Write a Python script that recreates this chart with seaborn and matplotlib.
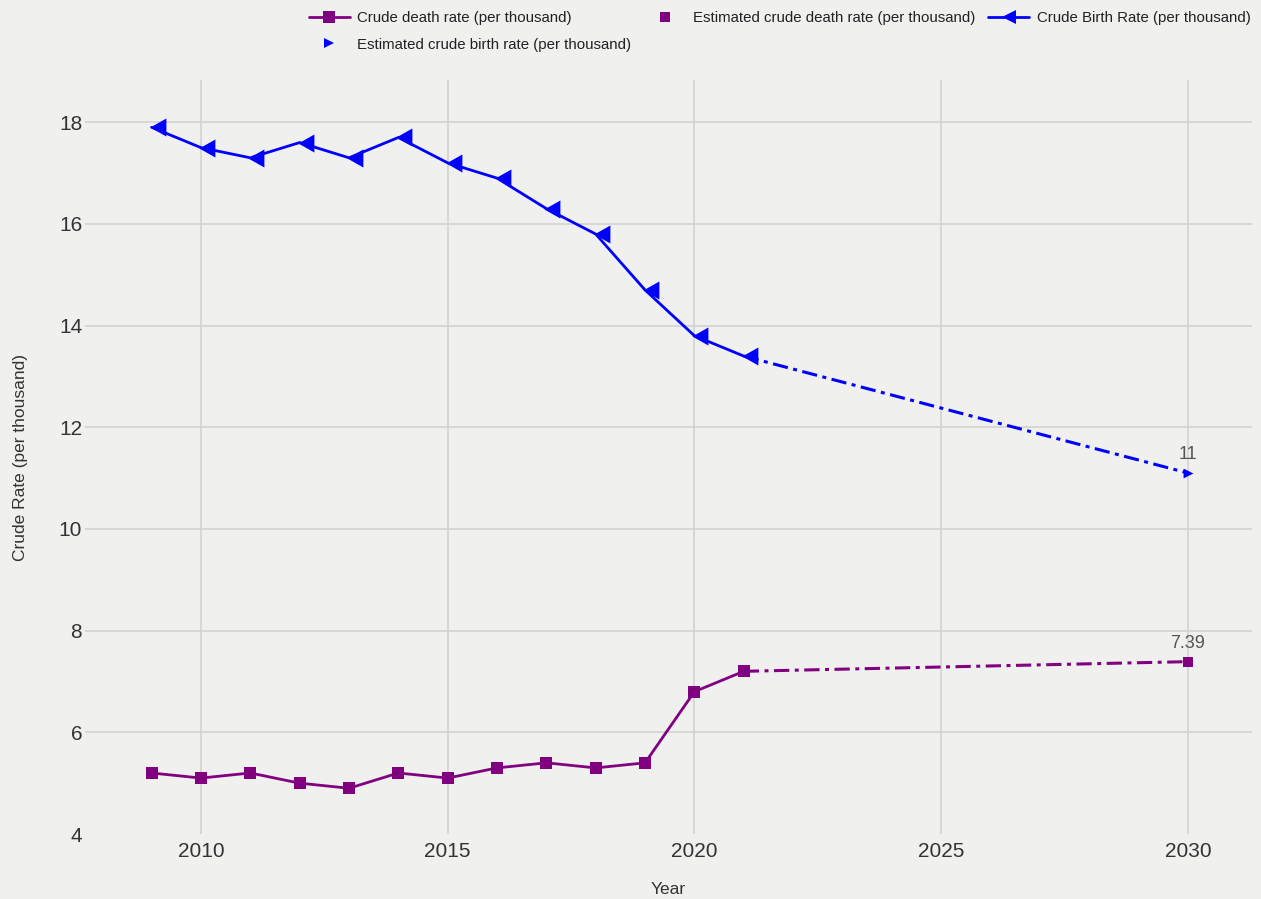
import matplotlib
matplotlib.use("Agg")
import matplotlib.pyplot as plt
from matplotlib.path import Path
import pandas as pd
import seaborn as sns

# observed data
years = [2009, 2010, 2011, 2012, 2013, 2014, 2015, 2016, 2017, 2018, 2019, 2020, 2021]
birth_rate = [17.9, 17.5, 17.3, 17.6, 17.3, 17.7, 17.2, 16.9, 16.3, 15.8, 14.7, 13.8, 13.4]
death_rate = [5.2, 5.1, 5.2, 5.0, 4.9, 5.2, 5.1, 5.3, 5.4, 5.3, 5.4, 6.8, 7.2]

# estimates (line runs from last observed year to target)
est_years = [2021, 2030]
est_birth = [13.4, 11.1]
est_death = [7.2, 7.39]
est_birth_label = "11"
est_death_label = "7.39"

BG = "#f0f0ef"
BLUE = "#0000ff"
PURPLE = "#800080"
DASHDOT = (0, (5, 1.8, 1.3, 1.8))

# left-pointing triangle, tip close to the data point
tri_left = Path([(-0.15, 0), (1, 0.65), (1, -0.65), (-0.15, 0)],
                [Path.MOVETO, Path.LINETO, Path.LINETO, Path.CLOSEPOLY])

sns.set_theme(style="whitegrid")
plt.rcParams["font.family"] = ["Liberation Sans", "DejaVu Sans"]

obs = pd.DataFrame({"Year": years, "birth": birth_rate, "death": death_rate})
est = pd.DataFrame({"Year": est_years, "birth": est_birth, "death": est_death})

fig = plt.figure(figsize=(12.61, 8.99), dpi=100, facecolor=BG)
ax = fig.add_axes([0.0674, 0.0723, 0.9255, 0.8387])
ax.set_facecolor(BG)

sns.lineplot(data=est, x="Year", y="death", ax=ax, color=PURPLE, lw=2.2, linestyle=DASHDOT)
sns.lineplot(data=est, x="Year", y="birth", ax=ax, color=BLUE, lw=2.2, linestyle=DASHDOT)
sns.lineplot(data=obs, x="Year", y="death", ax=ax, color=PURPLE, lw=2,
             marker="s", markersize=8.5, markeredgewidth=0)
sns.lineplot(data=obs, x="Year", y="birth", ax=ax, color=BLUE, lw=2,
             marker=tri_left, markersize=20, markeredgewidth=0)
sns.scatterplot(x=est_years[1:], y=est_death[1:], ax=ax, color=PURPLE,
                marker="s", s=50, linewidth=0)
sns.scatterplot(x=est_years[1:], y=est_birth[1:], ax=ax, color=BLUE,
                marker=">", s=50, linewidth=0)

ax.annotate(est_birth_label, (est_years[1], est_birth[1]), xytext=(0, 13),
            textcoords="offset points", ha="center", va="center", fontsize=13, color="#555555")
ax.annotate(est_death_label, (est_years[1], est_death[1]), xytext=(0, 13),
            textcoords="offset points", ha="center", va="center", fontsize=13, color="#555555")

ax.set_xlim(2007.65, 2031.3)
ax.set_ylim(4, 18.83)
ax.set_xticks([2010, 2015, 2020, 2025, 2030])
ax.set_yticks([4, 6, 8, 10, 12, 14, 16, 18])
ax.grid(color="#d2d2d2", lw=1.2)
ax.yaxis.get_gridlines()[0].set_visible(False)
for s in ax.spines.values():
    s.set_visible(False)
ax.tick_params(axis="both", labelsize=15, colors="#333333", length=0)
ax.tick_params(axis="x", pad=6)
ax.tick_params(axis="y", pad=2)
ax.set_xlabel("Year", fontsize=12.5, color="#333333", labelpad=15)
ax.set_ylabel("Crude Rate (per thousand)", fontsize=12.5, color="#333333", labelpad=22)

h_death = plt.Line2D([], [], color=PURPLE, lw=2, marker="s", markersize=9, markeredgewidth=0)
h_est_death = plt.Line2D([], [], color=PURPLE, lw=0, marker="s", markersize=7, markeredgewidth=0)
h_birth = plt.Line2D([], [], color=BLUE, lw=2, marker="<", markersize=10, markeredgewidth=0)
h_est_birth = plt.Line2D([], [], color=BLUE, lw=0, marker=">", markersize=7, markeredgewidth=0)
fig.legend([h_death, h_est_birth, h_est_death, h_birth],
           ["Crude death rate (per thousand)", "Estimated crude birth rate (per thousand)",
            "Estimated crude death rate (per thousand)", "Crude Birth Rate (per thousand)"],
           loc="upper left", bbox_to_anchor=(0.234, 1.003), ncol=3, frameon=False,
           fontsize=10.8, handlelength=2.75, columnspacing=0.85, labelspacing=0.85,
           handletextpad=0.5, labelcolor="#222222")

fig.savefig("out.png", dpi=100, facecolor=BG)
